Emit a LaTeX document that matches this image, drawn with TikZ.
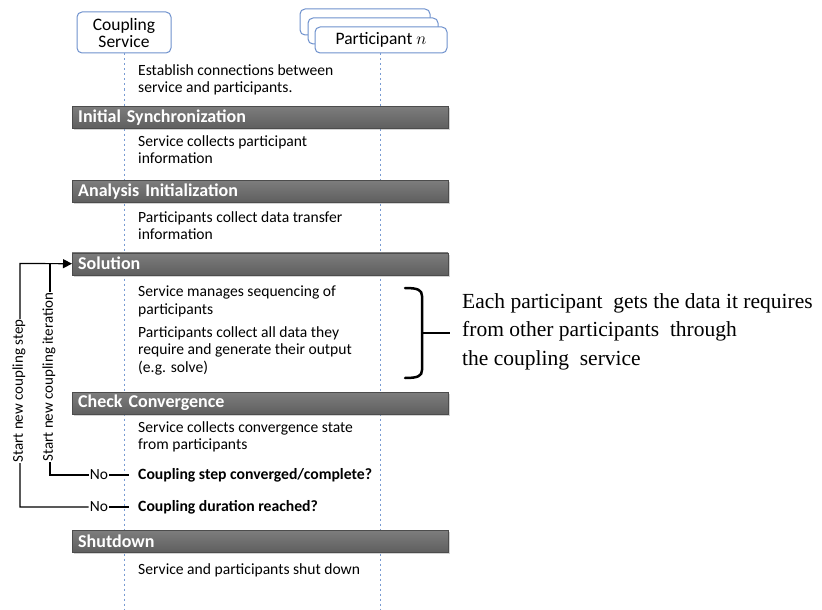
\documentclass[tikz,border=0pt]{standalone}
\usepackage{fontspec}
\setmainfont{Carlito}
\newfontfamily\timesfont{Liberation Serif}
\usetikzlibrary{positioning,arrows.meta,shadows}
\definecolor{lifeblue}{RGB}{120,155,210}
\definecolor{boxblue}{RGB}{110,145,205}
\definecolor{bardark}{RGB}{95,95,95}
\definecolor{barlight}{RGB}{125,125,125}
\tikzset{
  actorbox/.style={draw=boxblue, line width=1pt, rounded corners=5pt, fill=white, align=center, font=\fontsize{17.5}{17}\selectfont},
  lifeline/.style={draw=lifeblue, line width=1pt, dash pattern=on 2pt off 3pt},
  phasebar/.style={draw=black!70, fill=bardark, top color=barlight, bottom color=bardark, text=white, anchor=north west,
    minimum height=22pt, text width=364pt, inner xsep=6pt, inner ysep=0pt, align=left,
    font=\fontsize{18}{18}\selectfont\bfseries, drop shadow={shadow xshift=2pt, shadow yshift=-2pt, opacity=0.35}},
  steptext/.style={anchor=north west, inner sep=0pt, align=left, font=\fontsize{15.6}{17.5}\selectfont},
  question/.style={anchor=west, inner sep=0pt, font=\fontsize{15.7}{17}\selectfont\bfseries},
  nolabel/.style={inner sep=1pt, font=\fontsize{15.5}{17}\selectfont},
  looplabel/.style={rotate=90, fill=white, inner sep=1pt, font=\fontsize{15}{16}\selectfont},
  loopline/.style={line width=1.2pt},
  notetext/.style={anchor=north west, inner sep=0pt, align=left, font=\timesfont\fontsize{21.5}{28.5}\selectfont}
}
\begin{document}
\begin{tikzpicture}[x=1pt, y=-1pt, >={Triangle[length=9pt,width=9pt]}]
  \useasboundingbox (0,0) rectangle (822,610);
  % actors
  \node[actorbox, minimum width=94pt, minimum height=41pt] (cs) at (124,32.5) {Coupling\\Service};
  \node[actorbox, minimum width=130pt, minimum height=26pt] (p3) at (365,22) {};
  \node[actorbox, minimum width=130pt, minimum height=26pt] (p2) at (373,31) {};
  \node[actorbox, minimum width=132pt, minimum height=26pt] (pn) at (381,40) {Participant $n$};
  % lifelines
  \coordinate (csend) at (124,610);
  \coordinate (pnend) at (380,610);
  \draw[lifeline] (cs.south) -- (csend);
  \draw[lifeline] ([xshift=-1pt]pn.south) -- (pnend);
  % phases
  \node[steptext] (t1) at (138,64) {Establish connections between\\service and participants.};
  \node[phasebar] (init) at (72,106) {Initial Synchronization};
  \node[steptext] (t2) at (138,135) {Service collects participant\\information};
  \node[phasebar] (anal) at (72,180) {Analysis Initialization};
  \node[steptext] (t3) at (138,211) {Participants collect data transfer\\information};
  \node[phasebar] (sol) at (72,252.5) {Solution};
  \node[steptext] (t4) at (138,286) {Service manages sequencing of\\participants};
  \node[steptext] (t5) at (138,326) {Participants collect all data they\\require and generate their output\\(e.g. solve)};
  \node[phasebar] (conv) at (72,392) {Check Convergence};
  \node[steptext] (t6) at (138,421) {Service collects convergence state\\from participants};
  \node[question] (q1) at (138,475) {Coupling step converged/complete?};
  \node[question] (q2) at (138,507) {Coupling duration reached?};
  \node[phasebar] (shut) at (72,530) {Shutdown};
  \node[steptext] (t7) at (138,563) {Service and participants shut down};
  % loops back to solution
  \node[nolabel] (no1) at (99,475) {No};
  \node[nolabel] (no2) at (99,507) {No};
  \coordinate (itc) at (50,263.5);
  \coordinate (stc) at (20,263.5);
  \draw[loopline] (no1.east) -- ([xshift=-9pt]q1.west);
  \draw[loopline] (no2.east) -- ([xshift=-9pt]q2.west);
  \draw[loopline] (no1.west) -| (itc);
  \draw[loopline, ->] (no2.west) -| (stc) -- (sol.west);
  \node[looplabel] (itlbl) at (49,377) {Start new coupling iteration};
  \node[looplabel] (stlbl) at (19,391) {Start new coupling step};
  % bracket and note
  \draw[line width=2.5pt, line cap=round] (405,288) .. controls (418,288) and (422,290) .. (422,296) -- (422,370) .. controls (422,376) and (418,378) .. (405,378);
  \draw[line width=2.5pt] (422,333) -- (450,333);
  \node[notetext] (note) at (462,293) {Each participant\ \ gets the data it requires\\from other participants\ \ through\\the coupling\ \ service};
\end{tikzpicture}
\end{document}
